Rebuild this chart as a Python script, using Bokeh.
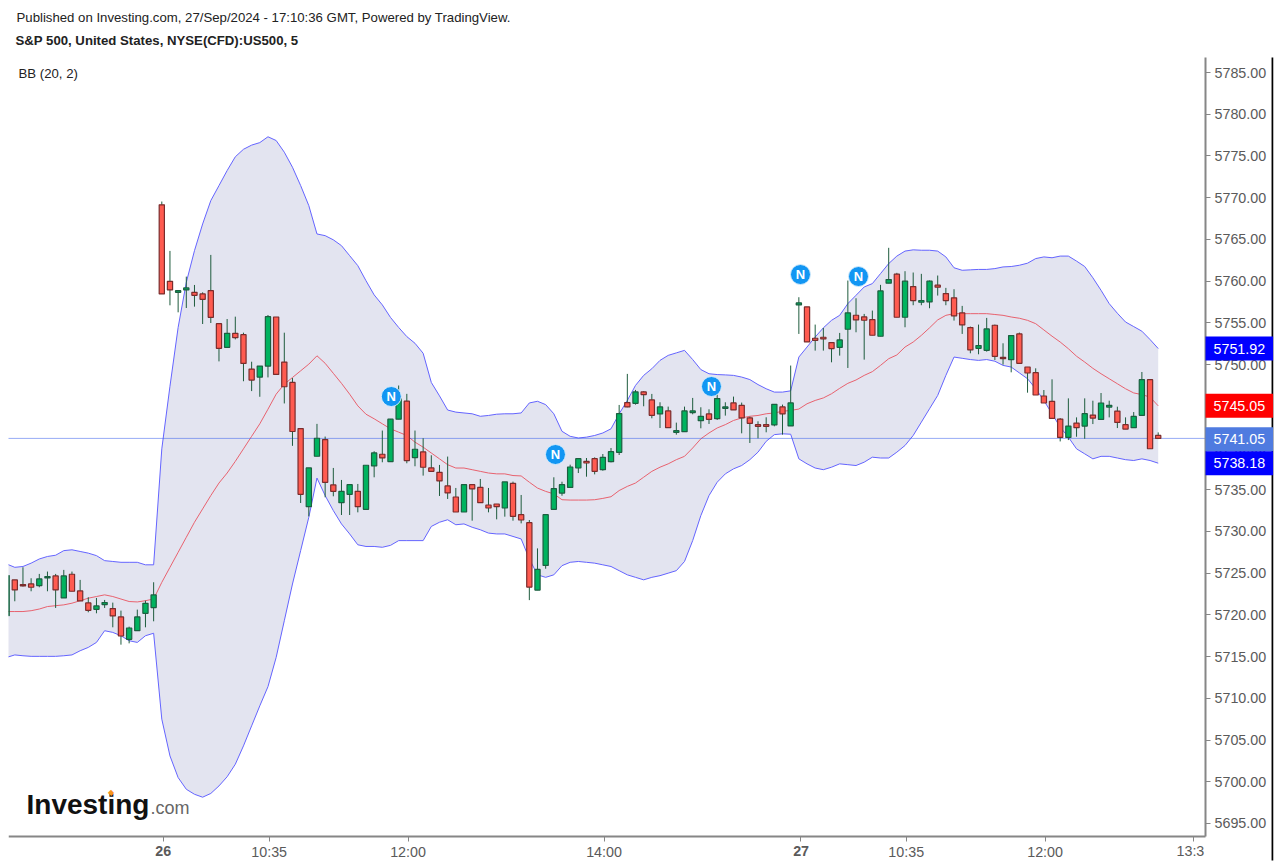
from bokeh.core.properties import value
from bokeh.embed import file_html
from bokeh.resources import INLINE
from bokeh.models import (ColumnDataSource, FixedTicker, Label, LinearAxis,
                          NumeralTickFormatter, Range1d)
from bokeh.plotting import figure

FIRST_BAR = -19

opens = [
    5719.91, 5724.19, 5723.63, 5723.71, 5723.51, 5724.43, 5724.67, 5722.03, 5724.87, 5722.87,
    5721.43, 5720.67, 5721.23, 5720.75, 5719.75, 5717.07, 5718.11, 5720.19, 5720.87,
    5769.14, 5759.98, 5758.66, 5758.94, 5758.66, 5758.46, 5758.86, 5754.90, 5752.06, 5753.74,
    5753.58, 5749.46, 5748.50, 5749.82, 5755.70, 5750.30, 5747.86, 5742.33, 5732.97, 5739.01,
    5741.01, 5735.57, 5733.45, 5734.45, 5734.81, 5732.65, 5737.85, 5739.25, 5738.37, 5743.45,
    5745.61, 5738.85, 5739.53, 5737.61, 5737.09, 5735.45, 5734.13, 5732.33, 5735.61, 5735.29,
    5733.17, 5733.29, 5732.81, 5735.77, 5732.01, 5731.05, 5722.97, 5725.93, 5732.65, 5734.60,
    5735.28, 5737.60, 5738.40, 5738.72, 5737.40, 5738.36, 5739.48, 5745.44, 5745.36, 5746.72,
    5745.76, 5744.08, 5744.44, 5741.88, 5741.96, 5744.24, 5743.28, 5744.08, 5743.52, 5744.76,
    5745.40, 5745.12, 5743.60, 5742.80, 5742.80, 5742.76, 5744.92, 5742.64,
    5757.15, 5756.91, 5753.15, 5753.27, 5752.63, 5752.07, 5754.23, 5755.91, 5755.71, 5755.39,
    5753.39, 5759.75, 5760.83, 5755.67, 5759.35, 5757.47, 5757.51, 5759.51, 5758.51, 5758.00,
    5756.19, 5754.43, 5751.95, 5751.71, 5754.71, 5750.87, 5750.59, 5753.67, 5749.71, 5749.03,
    5746.23, 5745.59, 5743.47, 5741.27, 5742.99, 5742.63, 5743.95, 5743.43, 5744.91, 5744.43,
    5742.79, 5742.43, 5743.91, 5748.19, 5741.51,
]
closes = [
    5724.71, 5722.99, 5723.47, 5723.31, 5724.31, 5724.59, 5722.99, 5724.67, 5722.83, 5721.67,
    5720.55, 5721.07, 5721.47, 5719.87, 5717.47, 5718.43, 5719.75, 5721.39, 5722.39,
    5758.46, 5758.94, 5758.86, 5759.18, 5758.30, 5757.82, 5755.66, 5751.94, 5753.74, 5753.22,
    5750.14, 5748.14, 5749.82, 5755.74, 5748.82, 5747.34, 5741.98, 5734.45, 5737.61, 5741.17,
    5735.89, 5734.81, 5734.81, 5735.61, 5732.97, 5737.93, 5739.41, 5738.81, 5743.45, 5745.89,
    5738.49, 5739.85, 5737.69, 5737.21, 5736.05, 5734.61, 5732.33, 5735.61, 5735.09, 5733.45,
    5732.81, 5732.97, 5735.93, 5731.81, 5731.37, 5723.33, 5725.45, 5732.01, 5735.13, 5735.60,
    5737.72, 5738.72, 5738.20, 5737.20, 5738.88, 5739.56, 5744.12, 5744.92, 5746.72, 5746.40,
    5743.92, 5744.92, 5742.44, 5742.08, 5744.44, 5744.44, 5743.80, 5743.44, 5745.92, 5744.92,
    5744.56, 5743.60, 5742.96, 5742.60, 5742.60, 5745.24, 5744.08, 5745.40,
    5757.39, 5752.71, 5752.91, 5753.07, 5751.91, 5752.95, 5756.19, 5755.35, 5755.31, 5753.51,
    5758.83, 5760.19, 5755.67, 5759.99, 5757.67, 5757.67, 5759.99, 5759.27, 5757.67, 5755.83,
    5754.75, 5751.75, 5752.27, 5754.27, 5750.99, 5750.71, 5753.47, 5750.15, 5748.99, 5746.35,
    5745.39, 5743.55, 5741.27, 5742.63, 5742.43, 5744.11, 5743.59, 5745.39, 5745.11, 5743.07,
    5742.27, 5743.79, 5748.19, 5739.91, 5741.15,
]
highs = [
    5724.71, 5724.19, 5725.71, 5724.39, 5724.91, 5725.19, 5724.91, 5725.39, 5725.19, 5724.19,
    5722.11, 5722.03, 5721.79, 5721.47, 5720.51, 5718.59, 5720.63, 5721.71, 5723.91,
    5769.54, 5763.62, 5758.86, 5760.54, 5759.54, 5758.66, 5763.14, 5754.90, 5755.46, 5755.74,
    5753.82, 5750.34, 5749.82, 5755.94, 5755.70, 5753.82, 5748.38, 5742.33, 5737.61, 5742.89,
    5741.37, 5737.61, 5736.17, 5735.61, 5735.69, 5737.93, 5739.61, 5742.09, 5743.45, 5747.49,
    5746.49, 5742.09, 5741.17, 5739.13, 5737.97, 5738.97, 5735.21, 5735.61, 5735.61, 5736.29,
    5735.21, 5733.29, 5735.93, 5735.97, 5734.37, 5731.37, 5727.97, 5732.01, 5736.49, 5735.96,
    5738.00, 5738.72, 5738.80, 5738.88, 5739.28, 5740.00, 5745.16, 5748.88, 5746.96, 5746.80,
    5746.48, 5745.48, 5744.96, 5743.04, 5744.96, 5746.00, 5744.88, 5744.64, 5746.48, 5745.48,
    5746.16, 5745.44, 5743.76, 5743.20, 5743.68, 5745.24, 5745.20, 5749.88,
    5758.07, 5756.91, 5754.79, 5754.39, 5752.70, 5753.79, 5760.07, 5757.95, 5756.07, 5756.47,
    5759.55, 5763.99, 5760.99, 5761.19, 5761.03, 5760.87, 5760.07, 5760.67, 5759.19, 5759.03,
    5757.03, 5754.55, 5754.79, 5755.59, 5754.79, 5752.55, 5753.47, 5753.83, 5749.71, 5749.55,
    5746.95, 5748.23, 5743.59, 5745.95, 5743.67, 5745.95, 5745.67, 5746.59, 5745.67, 5744.95,
    5743.67, 5744.31, 5749.11, 5748.19, 5741.87,
]
lows = [
    5719.91, 5721.63, 5723.39, 5722.83, 5723.31, 5722.83, 5720.83, 5722.03, 5722.83, 5721.67,
    5720.31, 5720.19, 5720.83, 5718.51, 5716.43, 5716.59, 5718.11, 5718.51, 5719.23,
    5758.46, 5757.10, 5756.26, 5756.78, 5756.94, 5754.86, 5754.98, 5750.38, 5752.06, 5753.02,
    5748.00, 5746.82, 5746.14, 5748.46, 5748.82, 5745.34, 5740.26, 5733.41, 5731.81, 5739.01,
    5734.09, 5734.21, 5731.97, 5731.97, 5732.29, 5732.65, 5736.49, 5738.29, 5738.37, 5743.45,
    5738.17, 5737.81, 5736.69, 5737.21, 5734.25, 5733.89, 5732.33, 5732.33, 5731.29, 5733.45,
    5732.29, 5731.45, 5731.77, 5731.29, 5730.97, 5721.77, 5722.97, 5725.53, 5732.65, 5734.28,
    5735.28, 5737.00, 5736.56, 5736.84, 5737.28, 5738.28, 5739.16, 5744.88, 5745.20, 5745.00,
    5743.56, 5742.40, 5742.40, 5741.60, 5741.96, 5744.04, 5742.36, 5742.88, 5743.36, 5743.88,
    5744.56, 5741.76, 5740.60, 5741.16, 5741.88, 5742.60, 5741.60, 5742.64,
    5753.67, 5752.71, 5751.67, 5751.67, 5750.27, 5751.07, 5749.59, 5753.87, 5750.59, 5753.51,
    5753.39, 5759.75, 5755.67, 5754.47, 5757.11, 5757.11, 5756.75, 5758.27, 5757.11, 5755.27,
    5753.67, 5751.35, 5751.23, 5751.55, 5750.55, 5749.99, 5749.07, 5750.15, 5746.63, 5746.35,
    5745.39, 5743.55, 5740.79, 5740.95, 5741.35, 5741.11, 5742.87, 5743.43, 5743.67, 5742.39,
    5742.27, 5742.43, 5743.91, 5739.91, 5741.07,
]

bb_upper = [
    5726.1, 5725.7, 5725.8, 5726.2, 5726.7, 5727.0, 5727.15, 5727.7, 5727.8, 5727.6,
    5727.4, 5727.1, 5726.5, 5726.4, 5726.3, 5726.3, 5726.3, 5726.0, 5726.0,
    5739.9, 5747.4, 5754.45, 5759.85, 5763.65, 5766.85, 5769.65, 5771.45, 5773.25, 5774.9,
    5775.8, 5776.3, 5776.6, 5777.3, 5776.85, 5775.45, 5773.65, 5771.45, 5769.05, 5765.65,
    5765.45, 5764.95, 5764.25, 5763.05, 5761.85, 5760.05, 5758.35, 5757.15, 5755.65, 5754.45,
    5753.35, 5752.55, 5751.35, 5747.85, 5746.25, 5744.55, 5744.3, 5744.2, 5744.1, 5743.8,
    5743.9, 5744.05, 5744.1, 5744.1, 5744.2, 5745.4, 5745.6, 5745.2, 5744.1, 5742.0,
    5741.4, 5741.2, 5741.3, 5741.5, 5741.8, 5742.3, 5744.1, 5745.7, 5747.5, 5748.7,
    5749.5, 5750.5, 5751.1, 5751.4, 5751.7, 5750.6, 5749.4, 5748.9, 5748.8, 5748.76,
    5748.7, 5748.5, 5748.2, 5747.6, 5747.1, 5746.7, 5746.7, 5746.85,
    5750.9, 5752.1, 5753.3, 5754.4, 5755.3, 5755.9, 5757.3, 5758.3, 5759.3, 5759.7,
    5760.9, 5762.1, 5763.0, 5763.6, 5763.75, 5763.7, 5763.7, 5763.6, 5762.9, 5761.6,
    5761.3, 5761.35, 5761.4, 5761.4, 5761.5, 5761.7, 5761.75, 5761.9, 5762.15, 5762.7,
    5762.9, 5762.8, 5763.0, 5763.0, 5762.4, 5761.75, 5760.4, 5758.9, 5757.3, 5756.15,
    5755.1, 5754.55, 5754.0, 5753.0, 5751.92,
]
bb_middle = [
    5720.4, 5720.4, 5720.4, 5720.5, 5720.7, 5721.0, 5721.1, 5721.2, 5721.4, 5721.7,
    5722.0, 5722.2, 5722.4, 5722.2, 5721.9, 5721.6, 5721.55, 5721.7, 5721.9,
    5723.9, 5725.7, 5727.5, 5729.3, 5731.1, 5732.7, 5734.3, 5735.8, 5737.0, 5738.4,
    5739.9, 5741.4, 5742.9, 5744.65, 5746.45, 5747.65, 5748.45, 5749.25, 5750.05, 5751.05,
    5750.15, 5748.95, 5747.75, 5746.45, 5745.05, 5744.05, 5743.5, 5742.9, 5742.3, 5741.9,
    5741.5, 5740.7, 5740.1, 5739.4, 5738.7, 5738.0, 5737.6, 5737.6, 5737.4, 5737.2,
    5737.0, 5736.9, 5736.9, 5736.7, 5736.65, 5735.9, 5735.2, 5734.8, 5734.5, 5733.8,
    5733.76, 5733.76, 5733.76, 5733.8, 5733.96, 5734.16, 5734.9, 5735.4, 5735.8, 5736.5,
    5737.2, 5737.7, 5738.1, 5738.6, 5739.0, 5740.0, 5741.1, 5741.8, 5742.4, 5742.8,
    5743.3, 5743.6, 5743.8, 5743.9, 5744.1, 5744.2, 5744.4, 5744.5,
    5744.67, 5745.3, 5745.7, 5746.0, 5746.5, 5747.15, 5747.75, 5748.15, 5748.7, 5749.15,
    5749.9, 5750.7, 5751.15, 5752.1, 5752.7, 5753.5, 5754.4, 5755.35, 5755.9, 5756.1,
    5756.1, 5756.1, 5756.1, 5756.1, 5756.0, 5755.9, 5755.7, 5755.55, 5755.3, 5754.9,
    5754.15, 5753.4, 5752.7, 5751.9, 5751.0, 5750.3, 5749.55, 5748.9, 5748.3, 5747.7,
    5747.1, 5746.6, 5746.4, 5746.1, 5745.05,
]
bb_lower = [
    5714.9, 5715.2, 5715.1, 5715.03, 5715.03, 5715.03, 5715.03, 5715.1, 5715.2, 5715.7,
    5716.1, 5716.7, 5718.1, 5717.9, 5717.5, 5716.9, 5716.7, 5717.5, 5717.8,
    5707.5, 5703.1, 5700.5, 5699.1, 5698.5, 5698.15, 5698.6, 5699.5, 5700.6, 5702.1,
    5704.3, 5706.7, 5709.1, 5711.4, 5714.9, 5719.3, 5723.7, 5727.7, 5731.7, 5736.4,
    5734.3, 5732.5, 5730.9, 5729.7, 5728.4, 5728.2, 5728.2, 5728.1, 5728.33, 5728.9,
    5728.9, 5728.9, 5728.9, 5730.6, 5731.1, 5731.4, 5730.8, 5730.9, 5730.5, 5730.2,
    5729.8, 5729.7, 5729.7, 5729.4, 5729.1, 5726.7, 5724.8, 5724.5, 5724.8, 5725.9,
    5726.3, 5726.4, 5726.3, 5726.2, 5726.0, 5725.8, 5725.3, 5724.8, 5724.5, 5724.2,
    5724.5, 5724.7, 5725.0, 5725.3, 5726.4, 5728.9, 5731.9, 5734.3, 5735.9, 5736.9,
    5737.5, 5737.9, 5738.6, 5739.5, 5740.8, 5741.6, 5741.7, 5741.65,
    5738.7, 5738.1, 5737.6, 5737.4, 5737.7, 5738.1, 5738.0, 5737.9, 5738.3, 5738.9,
    5738.8, 5738.8, 5739.5, 5740.3, 5741.5, 5743.1, 5744.7, 5746.3, 5748.7, 5750.9,
    5750.75, 5750.6, 5750.5, 5750.6, 5750.4, 5749.9, 5749.7, 5749.0, 5748.3, 5747.1,
    5745.7, 5744.1, 5742.5, 5741.3, 5739.9, 5739.3, 5738.7, 5739.0, 5739.0, 5738.8,
    5738.6, 5738.5, 5738.7, 5738.5, 5738.18,
]

news_bars = [28.1, 48.2, 67.3, 78.2, 85.3]
news_prices = [5746.17, 5739.22, 5747.37, 5760.79, 5760.55]

price_ticks = list(range(5695, 5786, 5))
time_ticks = [13.15, 30.15, 54.15, 91.15, 108.15]
time_labels = ["10:35", "12:00", "14:00", "10:35", "12:00"]
day_ticks = [0.15, 78.15]
day_labels = ["26", "27"]
cut_tick = 126.35
cut_label = "13:3"

last_price_line = 5741.15
price_tags = [(5751.92, "#0000ff"), (5745.05, "#ff0000"), (5741.05, "#4f7be0"), (5738.18, "#0000ff")]

header = "Published on Investing.com, 27/Sep/2024 - 17:10:36 GMT, Powered by TradingView."
symbol = "S&P 500, United States, NYSE(CFD):US500, 5"
legend = "BB (20, 2)"

bars = list(range(FIRST_BAR, FIRST_BAR + len(opens)))
UP, DOWN = "#00b35f", "#ff5b50"
UP_EDGE, DOWN_EDGE = "#1c5f40", "#7a2c2c"
AXIS = "#868686"
TEXT = "#5a5a5a"
FONT = "Liberation Sans"

# The frame covers the page, so that texts around the plot area are drawn;
# the axes sit at fixed data locations inside it.
PANE_X = (-18.77, 127.79)
PANE_Y = (5693.44, 5786.80)
EDGE_X = 136.0
EDGE_BOTTOM = 5690.56
FRAME_LEFT, FRAME_BOTTOM, FRAME_RIGHT = 8, 864, 1273
p = figure(width=1276, height=864, output_backend="svg", toolbar_location=None,
           x_range=Range1d(PANE_X[0], 136.116), y_range=Range1d(5690.084, 5793.631),
           x_axis_location=None, y_axis_location=None,
           min_border_left=8, min_border_right=3, min_border_top=0, min_border_bottom=0)
p.grid.visible = False
p.outline_line_color = None
p.background_fill_color = "white"

right = LinearAxis(ticker=FixedTicker(ticks=price_ticks), fixed_location=PANE_X[1], bounds=PANE_Y,
                   formatter=NumeralTickFormatter(format="0.00"))
bottom = LinearAxis(ticker=FixedTicker(ticks=time_ticks + day_ticks + [cut_tick]),
                    fixed_location=PANE_Y[0], bounds=PANE_X,
                    major_label_overrides={**dict(zip(time_ticks, time_labels)),
                                           **{t: " " for t in day_ticks}, cut_tick: " "})
for ax in (right, bottom):
    ax.axis_line_color = AXIS
    ax.axis_line_width = 2
    ax.major_tick_line_color = AXIS
    ax.major_tick_line_width = 1
    ax.major_tick_out = 5
    ax.major_tick_in = 0
    ax.minor_tick_out = 0
    ax.minor_tick_in = 0
    ax.major_label_text_font = FONT
    ax.major_label_text_font_size = "14.3px"
    ax.major_label_text_color = TEXT
right.major_label_standoff = 4
bottom.major_label_standoff = 3
p.add_layout(right, "right")
p.add_layout(bottom, "below")

# right edge rule
p.segment(x0=[EDGE_X], y0=[PANE_Y[1]], x1=[EDGE_X], y1=[EDGE_BOTTOM], line_color="#000000",
          line_width=2)

# Bollinger bands
p.varea(x=bars, y1=bb_lower, y2=bb_upper, fill_color="#e3e4f0")
p.line(bars, bb_upper, line_color="#6464ff", line_width=1)
p.line(bars, bb_lower, line_color="#6464ff", line_width=1)
p.line(bars, bb_middle, line_color="#e8626f", line_width=1)

p.line(list(PANE_X), [last_price_line, last_price_line], line_color="#3058ea", line_width=1,
       line_dash=[1, 1])

# candles
up = [c >= o for o, c in zip(opens, closes)]
src = ColumnDataSource(dict(
    x=bars, h=highs, l=lows,
    top=[max(o, c) for o, c in zip(opens, closes)],
    bot=[min(o, c) for o, c in zip(opens, closes)],
    fill=[UP if u else DOWN for u in up],
    edge=[UP_EDGE if u else DOWN_EDGE for u in up],
))
p.segment("x", "h", "x", "l", source=src, line_color="#1f5c3e", line_width=1)
p.vbar(x="x", width=0.64, top="top", bottom="bot", source=src, fill_color="fill",
       line_color="edge", line_width=1.2)

# news markers
p.scatter(news_bars, news_prices, size=20, fill_color="#1296f3", line_color="#d5ecfc", line_width=1)
p.text(news_bars, news_prices, text=["N"] * len(news_bars), text_color="white",
       text_font=value(FONT), text_font_style="bold", text_font_size="13px",
       text_align="center", text_baseline="middle")


def note(text, px, py, size="13.2px", style="normal", color="#222222", align="left"):
    p.add_layout(Label(x=px - FRAME_LEFT, y=FRAME_BOTTOM - py, x_units="screen", y_units="screen",
                       text=text, text_font=FONT, text_font_size=size, text_font_style=style,
                       text_color=color, text_align=align, text_baseline="middle"))


note(header, 16, 17)
note(symbol, 15, 40, style="bold")
note(legend, 18, 73)

for px, lab in zip((162.7, 800.6), day_labels):
    note(lab, px, 850, size="14.3px", style="bold", color=TEXT, align="center")
note(cut_label, 1176, 850, size="14.3px", color=TEXT)

# logo
note("Investing", 26, 804, size="28px", style="bold", color="#111111")
note(".com", 150, 807, size="18px", color="#666666")
note("◆", 107.5, 791.5, size="8px", color="#f7941d")

# price tags over the axis
for price, color in price_tags:
    p.add_layout(Label(x=1205 - FRAME_LEFT, y=price, x_units="screen", y_units="data",
                       text=f"{price:.2f}", text_font=FONT, text_font_size="14.3px",
                       text_color="white", text_align="left", text_baseline="middle",
                       background_fill_color=color, padding=(8, 7)))

open("out.html", "w").write(file_html(p, INLINE))
